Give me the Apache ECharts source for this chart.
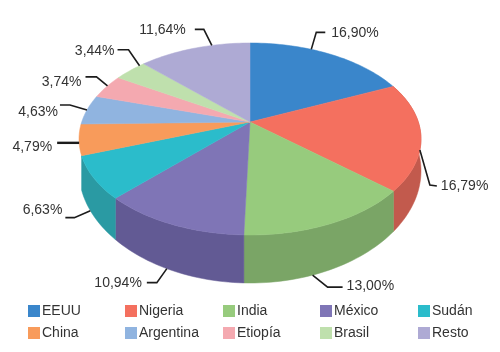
<!DOCTYPE html>
<html>
<head>
<meta charset="utf-8">
<style>
  html, body { margin: 0; padding: 0; background: #fff; }
  #chart { width: 500px; height: 352px; }
</style>
<script src="https://cdn.jsdelivr.net/npm/echarts@6/dist/echarts.min.js"></script>
</head>
<body>
<div id="chart"></div>
<script>
// values as printed on the chart; they add up to 92.5, slices are scaled to the sum
var countries = ['EEUU', 'Nigeria', 'India', 'México', 'Sudán', 'China', 'Argentina', 'Etiopía', 'Brasil', 'Resto'];
var shares = [16.90, 16.79, 13.00, 10.94, 6.63, 4.79, 4.63, 3.74, 3.44, 11.64];

var topColors = ['#3a86cb', '#f4705f', '#97cb7d', '#7f75b6', '#2bbccb', '#f89b5b', '#90b4e0', '#f4a9b0', '#bfe0ad', '#aeaad4'];
// only the front slices show a wall
var sideColors = [null, '#c25a4d', '#7aa566', '#625a94', '#2a9aa3', null, null, null, null, null];

// leader lines: where on the slice they start (0..1 across it), top or lower rim,
// elbow and end relative to the start, then label shift and gap
var leaderT = [0.38, 0.625, 0.61, 0.535, 0.6, 0.4, 0.49, 0.54, 0.85, 0.66];
var leaderLower = [false, false, true, true, true, false, false, false, false, false];
var leaderElbow = [[5, -17], [10, 35], [15, 12], [-10, 14], [-16, 7], [-11, 0], [-17, -5], [-11, -9], [-11, -16], [-8, -16]];
var leaderEnd = [[14, -17], [17, 36], [30, 12], [-20, 14], [-25, 7], [-22, 0], [-27, -5], [-22, -9], [-22, -16], [-17, -16]];
var labelDy = [1, 0, -1, 0, -8, 4, 7, 5, 1, 1];
var labelGap = [6, 4, 4, 5, 3, 5, 2, 4, 3, 9];

var chart = echarts.init(document.getElementById('chart'), null, { renderer: 'canvas' });

// perspective view of the disc: the centre sits above the middle of the ellipse
var CX = 250, CY = 122, R = 168.3, S = 93, K = 0.177;
var total = shares.reduce(function (a, b) { return a + b; }, 0);

function rim(deg, lower) {
  var a = deg * Math.PI / 180;
  var u = Math.sin(a), v = -Math.cos(a);
  var w = 1 - K * v;
  var x = CX + R * u / w;
  var y = CY + S * v / w;
  if (lower) y += 29.5 / Math.pow(w, 2.5);
  return [x, y];
}

function arc(from, to, lower) {
  var pts = [];
  var n = Math.max(2, Math.ceil((to - from) / 1.5));
  for (var i = 0; i <= n; i++) pts.push(rim(from + (to - from) * i / n, lower));
  return pts;
}

var starts = [];
var sum = 0;
shares.forEach(function (s) {
  starts.push(sum / total * 360);
  sum += s;
});

function renderSlice(idx) {
  return function () {
    var from = starts[idx];
    var to = from + shares[idx] / total * 360;
    var top = arc(from, to, false);

    var start = rim(from + (to - from) * leaderT[idx], leaderLower[idx]);
    var elbow = [start[0] + leaderElbow[idx][0], start[1] + leaderElbow[idx][1]];
    var end = [start[0] + leaderEnd[idx][0], start[1] + leaderEnd[idx][1]];
    var onRight = leaderEnd[idx][0] > 0;

    var children = [
      {
        type: 'polygon', z2: 10,
        shape: { points: [[CX, CY]].concat(top) },
        style: { fill: topColors[idx], stroke: topColors[idx], lineWidth: 0.5 }
      },
      {
        type: 'polyline', z2: 20,
        shape: { points: [start, elbow, end] },
        style: { fill: null, stroke: '#1c1c1c', lineWidth: idx === 5 ? 2.4 : 1.6 }
      },
      {
        type: 'text', z2: 20,
        x: end[0] + (onRight ? labelGap[idx] : -labelGap[idx]),
        y: end[1] + labelDy[idx],
        style: {
          text: shares[idx].toFixed(2).replace('.', ',') + '%',
          font: '14px "Liberation Sans", Arial, sans-serif',
          fill: '#333',
          align: onRight ? 'left' : 'right',
          verticalAlign: 'middle'
        }
      }
    ];
    if (sideColors[idx]) {
      children.push({
        type: 'polygon', z2: 1,
        shape: { points: top.concat(arc(from, to, true).reverse()) },
        style: { fill: sideColors[idx], stroke: sideColors[idx], lineWidth: 0.5 }
      });
    }
    return { type: 'group', children: children };
  };
}

var series = countries.map(function (name, i) {
  return {
    type: 'custom',
    name: name,
    coordinateSystem: 'none',
    silent: true,
    itemStyle: { color: topColors[i] },
    data: [shares[i]],
    renderItem: renderSlice(i)
  };
});

// one legend per entry, otherwise the five columns do not line up
var legendLeft = [28, 125, 223, 320, 418];
var legendTop = [304, 326];
var legends = countries.map(function (name, i) {
  return {
    data: [name],
    left: legendLeft[i % 5],
    top: legendTop[Math.floor(i / 5)],
    padding: 0,
    icon: 'rect',
    itemWidth: 12,
    itemHeight: 12,
    selectedMode: false,
    textStyle: {
      color: '#333',
      fontSize: 14,
      fontFamily: '"Liberation Sans", Arial, sans-serif',
      padding: [0, 0, 0, -3]
    }
  };
});

chart.setOption({
  animation: false,
  backgroundColor: '#fff',
  legend: legends,
  series: series
});
</script>
</body>
</html>
